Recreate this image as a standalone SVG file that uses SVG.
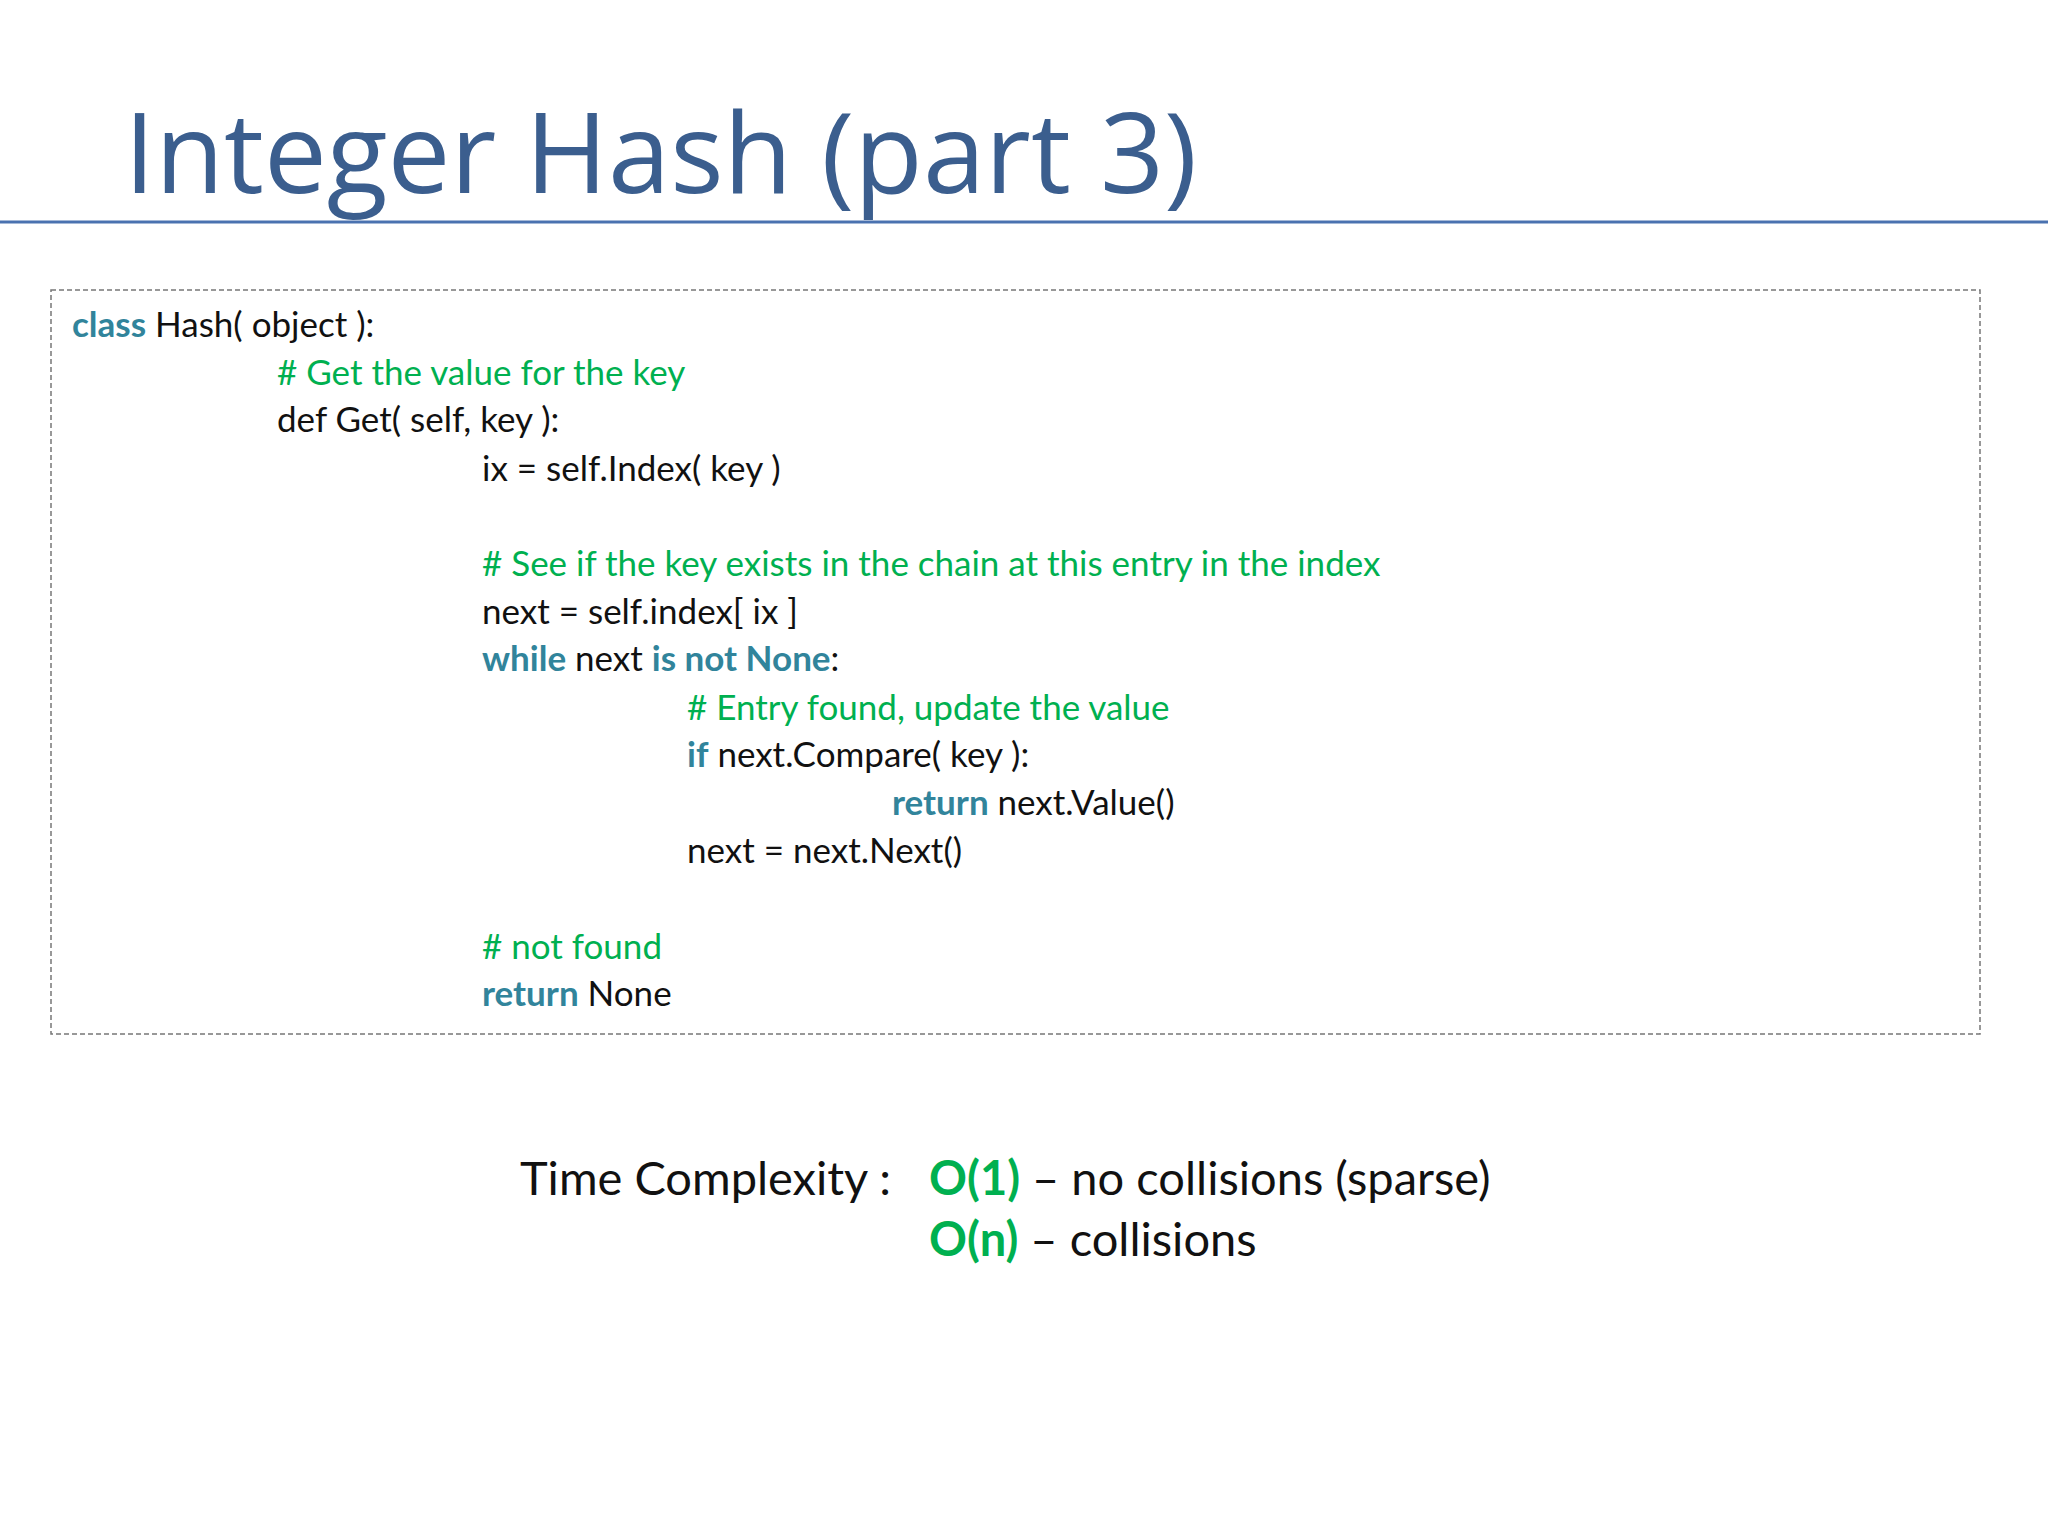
<svg xmlns="http://www.w3.org/2000/svg" width="2048" height="1536" viewBox="0 0 2048 1536">
<style>
text{font-family:Lato,"Open Sans",sans-serif;fill:#111}
.c{font-size:35px}
.k{fill:#31849b;font-weight:bold}
.g{fill:#00b050}
.t{font-size:47px}
.o{fill:#00b050;font-weight:bold}
</style>
<rect width="2048" height="1536" fill="#fff"/>
<g id="title">
<text x="124" y="193" style="font-family:'Open Sans',sans-serif;font-size:112px;fill:#3b5e8e">Integer Hash (part 3)</text>
<line x1="0" y1="222" x2="2048" y2="222" stroke="#4a72b0" stroke-width="3"/>
</g>
<g id="code">
<rect x="51" y="290" width="1929" height="744" fill="none" stroke="#777" stroke-width="1.5" stroke-dasharray="5,3"/>
<text class="c" x="72" y="337"><tspan class="k">class</tspan> Hash( object ):</text>
<text class="c g" x="277" y="385"># Get the value for the key</text>
<text class="c" x="277" y="432">def Get( self, key ):</text>
<text class="c" x="482" y="481">ix = self.Index( key )</text>
<text class="c g" x="482" y="576"># See if the key exists in the chain at this entry in the index</text>
<text class="c" x="482" y="624">next = self.index[ ix ]</text>
<text class="c" x="482" y="671"><tspan class="k">while</tspan> next <tspan class="k">is not None</tspan>:</text>
<text class="c g" x="687" y="720"># Entry found, update the value</text>
<text class="c" x="687" y="767"><tspan class="k">if</tspan> next.Compare( key ):</text>
<text class="c" x="892" y="815"><tspan class="k">return</tspan> next.Value()</text>
<text class="c" x="687" y="863">next = next.Next()</text>
<text class="c g" x="482" y="959"># not found</text>
<text class="c" x="482" y="1006"><tspan class="k">return</tspan> None</text>
</g>
<g id="complexity">
<text class="t" x="520" y="1195">Time Complexity  :</text>
<text class="t" x="929" y="1195"><tspan class="o">O(1)</tspan> – no collisions (sparse)</text>
<text class="t" x="929" y="1256"><tspan class="o">O(n)</tspan> – collisions</text>
</g>
</svg>
